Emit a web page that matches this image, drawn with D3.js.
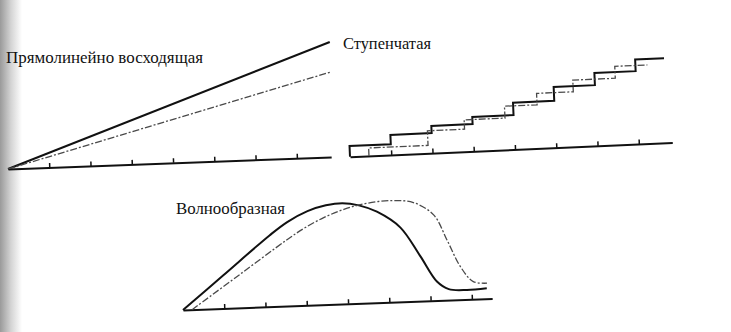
<!DOCTYPE html>
<html><head><meta charset="utf-8">
<script src="https://cdn.jsdelivr.net/npm/d3@7"></script>
<style>html,body{margin:0;padding:0;background:#fff;}svg{display:block;}</style>
</head><body>
<svg id="c" width="731" height="332"></svg>
<script>
// ---- data (x in axis units, y in arbitrary height units) ----
const titles = ["Прямолинейно восходящая", "Ступенчатая", "Волнообразная"];
const tickValues = [1, 2, 3, 4, 5, 6, 7];

// 1. linear rise
const linearX = [0, 7.9];
const linearSolid = [0, 11.5];
const linearDashed = [0, 8.5];
const linearAxisEnd = 7.83;

// 2. stepped
const stepSolidX = [0, 0, 1, 2, 3, 4, 5, 6, 7, 7.7];
const stepSolidY = [0, 1.07, 2.0, 2.72, 3.44, 4.69, 6.08, 7.3, 8.46, 8.46];
const stepDashedX = [0.46, 0.46, 1.9, 2.8, 3.79, 4.58, 5.47, 6.5, 7.29];
const stepDashedY = [0, 0.79, 2.25, 3.18, 4.37, 5.51, 6.68, 7.87, 7.87];
const stepAxisEnd = 7.81;

// 3. wave
const waveSolidX = [0, 1.0, 2.16, 2.6, 3.1, 3.55, 3.95, 4.35, 4.78, 5.33, 5.79, 6.17, 6.45, 6.89, 7.37];
const waveSolidY = [0, 3.3, 7.13, 8.4, 9.42, 9.93, 10.08, 9.8, 9.1, 7.45, 4.5, 1.9, 1.1, 0.95, 1.05];
const waveDashedX = [0.22, 1.4, 2.56, 3.0, 3.5, 4.0, 4.5, 5.11, 5.67, 6.15, 6.45, 6.75, 7.05, 7.38];
const waveDashedY = [0, 3.32, 6.58, 7.71, 8.73, 9.48, 9.95, 10.16, 9.88, 8.57, 6.02, 3.31, 1.76, 1.55];
const waveAxisEnd = 7.49;

// ---- drawing ----
const svg = d3.select("#c");
const unit = 41.3, yUnit = 10;

// scan shadow at left edge
const defs = svg.append("defs");
const g = defs.append("linearGradient").attr("id", "shadow").attr("x1", 0).attr("x2", 1);
g.append("stop").attr("offset", 0).attr("stop-color", "#9a9a9a");
g.append("stop").attr("offset", 0.5).attr("stop-color", "#d4d4d4");
g.append("stop").attr("offset", 1).attr("stop-color", "#fff");
svg.append("rect").attr("x", 0).attr("y", 0).attr("width", 22).attr("height", 332).attr("fill", "url(#shadow)");

function panel(cx, cy, angle, axisEnd, series) {
  const x = d3.scaleLinear().domain([0, axisEnd]).range([0, axisEnd * unit]);
  const y = d3.scaleLinear().domain([0, 12]).range([0, -12 * yUnit]);
  const grp = svg.append("g").attr("transform", `translate(${cx},${cy}) rotate(${-angle})`);
  const ax = d3.axisBottom(x).tickValues(tickValues).tickSize(-4.5).tickSizeOuter(0).tickFormat("");
  const a = grp.append("g").call(ax);
  a.select(".domain").attr("stroke", "#111").attr("stroke-width", 2);
  a.selectAll(".tick line").attr("stroke", "#111").attr("stroke-width", 1.5);
  series.forEach(s => {
    const pts = s.xs.map((v, i) => [v, s.ys[i]]);
    const line = d3.line().x(d => x(d[0])).y(d => y(d[1])).curve(s.curve);
    grp.append("path").attr("d", line(pts)).attr("fill", "none")
      .attr("stroke", s.dashed ? "#4a4a4a" : "#111")
      .attr("stroke-width", s.dashed ? 1.3 : 2)
      .attr("stroke-dasharray", s.dashed ? "7,2,2,2" : null)
      .attr("stroke-linejoin", "miter");
  });
}

panel(8, 169, 2.13, linearAxisEnd, [
  {xs: linearX, ys: linearSolid, curve: d3.curveLinear},
  {xs: linearX, ys: linearDashed, curve: d3.curveLinear, dashed: true}
]);
panel(350, 156.7, 2.5, stepAxisEnd, [
  {xs: stepSolidX, ys: stepSolidY, curve: d3.curveStepAfter},
  {xs: stepDashedX, ys: stepDashedY, curve: d3.curveStepAfter, dashed: true}
]);
panel(183, 310, 2.13, waveAxisEnd, [
  {xs: waveSolidX, ys: waveSolidY, curve: d3.curveCatmullRom.alpha(0.5)},
  {xs: waveDashedX, ys: waveDashedY, curve: d3.curveCatmullRom.alpha(0.5), dashed: true}
]);

const titlePos = [[6, 63, 197], [343, 48.5, 88], [176, 213.5, 109]];
titles.forEach((t, i) => {
  svg.append("text").attr("x", titlePos[i][0]).attr("y", titlePos[i][1])
    .attr("font-family", "'Liberation Serif', 'DejaVu Serif', serif")
    .attr("font-size", 17).attr("fill", "#111")
    .attr("textLength", titlePos[i][2]).attr("lengthAdjust", "spacingAndGlyphs")
    .text(t);
});
</script>
</body></html>
